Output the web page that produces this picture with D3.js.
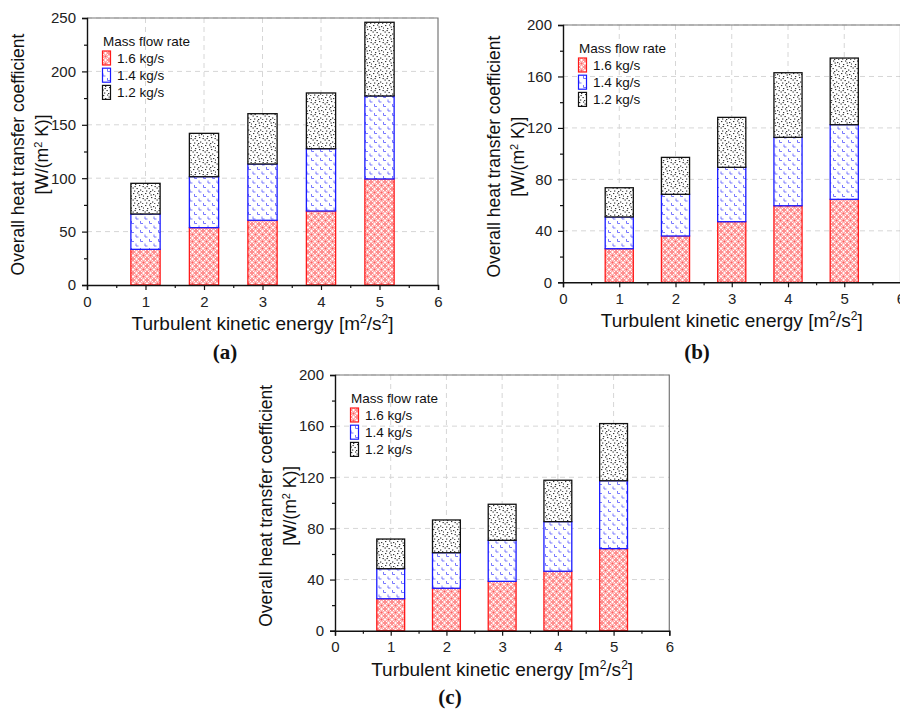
<!DOCTYPE html>
<html>
<head>
<meta charset="utf-8">
<script src="https://cdn.jsdelivr.net/npm/d3@7"></script>
<style>
  body { margin: 0; background: #fff; }
  svg { display: block; font-family: Arial, "Liberation Sans", sans-serif; }
</style>
</head>
<body>
<div id="chartbox"></div>
<script>
const WIDTH = 900
const HEIGHT = 709

// turbulent kinetic energy (x)
const tke = [1, 2, 3, 4, 5]
const seriesNames = ['1.6 kg/s', '1.4 kg/s', '1.2 kg/s']

// stacked segment values, one array per mass flow rate
const a16 = [33.4, 53.7, 60.6, 69.3, 99.3]
const a14 = [33.1, 47.7, 52.7, 58.3, 77.7]
const a12 = [28.7, 40.6, 47.1, 52.2, 69.0]

const b16 = [26.1, 36.0, 47.1, 59.5, 64.5]
const b14 = [24.7, 32.4, 42.3, 53.2, 58.0]
const b12 = [22.7, 28.7, 38.8, 50.2, 51.8]

const c16 = [25.0, 33.2, 38.6, 46.5, 64.2]
const c14 = [23.5, 27.8, 32.1, 38.8, 53.1]
const c12 = [23.2, 25.6, 28.2, 32.4, 44.7]

const xTicks = [0, 1, 2, 3, 4, 5, 6]
const yTicksA = [0, 50, 100, 150, 200, 250]
const yTicksBC = [0, 40, 80, 120, 160, 200]
const captions = ['(a)', '(b)', '(c)']

const panels = [
  { series: [a16, a14, a12], yTicks: yTicksA, caption: captions[0],
    left: 87, right: 438, top: 18, bottom: 285, cap: [225, 359] },
  { series: [b16, b14, b12], yTicks: yTicksBC, caption: captions[1],
    left: 563, right: 900.5, top: 25, bottom: 282.3, cap: [697, 359] },
  { series: [c16, c14, c12], yTicks: yTicksBC, caption: captions[2],
    left: 335, right: 669.3, top: 375, bottom: 630.7, cap: [450, 704] },
]

const strokes = ['#ff1a1a', '#1a1aff', '#111']

const svg = d3.select('#chartbox')
  .append('svg')
  .attr('width', WIDTH)
  .attr('height', HEIGHT)

// hatch patterns
const defs = svg.append('defs')

const pRed = defs.append('pattern')
  .attr('id', 'p0').attr('patternUnits', 'userSpaceOnUse')
  .attr('width', 7).attr('height', 7)
pRed.append('rect').attr('width', 7).attr('height', 7).attr('fill', '#fff')
;[[3.5, 0], [0, 3.5], [7, 3.5], [3.5, 7]].forEach(c => {
  pRed.append('circle').attr('cx', c[0]).attr('cy', c[1]).attr('r', 3.5)
    .attr('fill', 'none').attr('stroke', '#ff5656').attr('stroke-width', 0.65)
})

const pBlue = defs.append('pattern')
  .attr('id', 'p1').attr('patternUnits', 'userSpaceOnUse')
  .attr('width', 9).attr('height', 9)
pBlue.append('rect').attr('width', 9).attr('height', 9).attr('fill', '#fff')
;[[1, 0.5], [5.5, 5]].forEach(c => {
  pBlue.append('path')
    .attr('d', `M${c[0]},${c[1]} v2.5 h2.5`)
    .attr('fill', 'none').attr('stroke', '#6a6aff').attr('stroke-width', 0.9)
})

const pBlack = defs.append('pattern')
  .attr('id', 'p2').attr('patternUnits', 'userSpaceOnUse')
  .attr('width', 12).attr('height', 12)
pBlack.append('rect').attr('width', 12).attr('height', 12).attr('fill', '#fff')
const specks = [[1, 1], [5, 0.5], [9, 2], [3, 4], [7, 5], [10.5, 6], [0.5, 7.5],
  [4.5, 8], [8, 9.5], [2, 10.5], [6, 11], [10, 11.2], [11, 3.5], [6.5, 2.5], [2.5, 6]]
specks.forEach(s => {
  pBlack.append('rect').attr('x', s[0]).attr('y', s[1])
    .attr('width', 1.3).attr('height', 1.1).attr('fill', '#333')
})

function drawPanel(p) {
  const g = svg.append('g')
  const x = d3.scaleLinear().domain([0, 6]).range([p.left, p.right])
  const yMax = p.yTicks[p.yTicks.length - 1]
  const y = d3.scaleLinear().domain([0, yMax]).range([p.bottom, p.top])
  const step = p.yTicks[1] - p.yTicks[0]

  // grid
  g.append('g').selectAll('line')
    .data(p.yTicks.slice(1))
    .join('line')
    .attr('x1', p.left).attr('x2', p.right)
    .attr('y1', d => y(d)).attr('y2', d => y(d))
    .attr('stroke', '#d6d6d6').attr('stroke-dasharray', '5,4')
  g.append('g').selectAll('line')
    .data(xTicks.slice(1, -1))
    .join('line')
    .attr('x1', d => x(d)).attr('x2', d => x(d))
    .attr('y1', p.top).attr('y2', p.bottom)
    .attr('stroke', '#d6d6d6').attr('stroke-dasharray', '5,4')

  // frame
  g.append('path')
    .attr('d', `M${p.left},${p.top}H${p.right}V${p.bottom}`)
    .attr('fill', 'none').attr('stroke', '#777').attr('stroke-width', 1.2)

  // stacked bars
  const rows = tke.map((k, i) => ({ k, s0: p.series[0][i], s1: p.series[1][i], s2: p.series[2][i] }))
  const stacked = d3.stack().keys(['s0', 's1', 's2'])(rows)
  const bw = x(0.5) - x(0)
  stacked.forEach((layer, li) => {
    g.append('g').selectAll('rect')
      .data(layer)
      .join('rect')
      .attr('x', d => x(d.data.k) - bw / 2)
      .attr('width', bw)
      .attr('y', d => y(d[1]))
      .attr('height', d => y(d[0]) - y(d[1]))
      .attr('fill', `url(#p${li})`)
      .attr('stroke', strokes[li])
      .attr('stroke-width', 1.3)
  })

  // axes
  const xAxis = d3.axisBottom(x).tickValues(xTicks).tickSize(5).tickPadding(6)
    .tickFormat(d3.format('d'))
  const xMinor = d3.axisBottom(x).tickValues(xTicks.slice(0, -1).map(d => d + 0.5))
    .tickSize(3).tickFormat('')
  const yAxis = d3.axisLeft(y).tickValues(p.yTicks).tickSize(5).tickPadding(6)
  const yMinor = d3.axisLeft(y).tickValues(p.yTicks.slice(0, -1).map(d => d + step / 2))
    .tickSize(3).tickFormat('')

  g.append('g').attr('transform', `translate(0,${p.bottom})`).call(xMinor)
    .call(a => a.select('.domain').remove())
  g.append('g').attr('transform', `translate(${p.left},0)`).call(yMinor)
    .call(a => a.select('.domain').remove())
  const gx = g.append('g').attr('transform', `translate(0,${p.bottom})`).call(xAxis)
  const gy = g.append('g').attr('transform', `translate(${p.left},0)`).call(yAxis)
  ;[gx, gy].forEach(a => {
    a.select('.domain').attr('stroke', '#111').attr('stroke-width', 1.4)
    a.selectAll('.tick text').attr('font-size', 15).attr('fill', '#222')
      .attr('font-family', 'Arial, "Liberation Sans", sans-serif')
  })
  g.selectAll('.tick line').attr('stroke', '#111').attr('stroke-width', 1.2)

  // axis titles
  g.append('text')
    .attr('x', (p.left + p.right) / 2).attr('y', p.bottom + 45)
    .attr('text-anchor', 'middle').attr('font-size', 19).attr('fill', '#111')
    .html('Turbulent kinetic energy [m<tspan baseline-shift="super" font-size="12">2</tspan>/s<tspan baseline-shift="super" font-size="12">2</tspan>]')

  const cy = (p.top + p.bottom) / 2 + 3
  g.append('text')
    .attr('transform', `translate(${p.left - 63},${cy}) rotate(-90)`)
    .attr('text-anchor', 'middle').attr('font-size', 17.5).attr('fill', '#111')
    .text('Overall heat transfer coefficient')
  g.append('text')
    .attr('transform', `translate(${p.left - 39},${cy}) rotate(-90)`)
    .attr('text-anchor', 'middle').attr('font-size', 17.5).attr('fill', '#111')
    .html('[W/(m<tspan baseline-shift="super" font-size="11">2</tspan> K)]')

  // legend
  const lg = g.append('g').attr('transform', `translate(${p.left + 15},${p.top + 28})`)
  lg.append('text').attr('x', 1).attr('y', 0).attr('font-size', 13.5).attr('fill', '#111')
    .text('Mass flow rate')
  seriesNames.forEach((name, i) => {
    const yy = 5 + i * 17.2
    lg.append('rect').attr('x', 0.5).attr('y', yy).attr('width', 8).attr('height', 14)
      .attr('fill', `url(#p${i})`).attr('stroke', strokes[i]).attr('stroke-width', 1.2)
    lg.append('text').attr('x', 15).attr('y', yy + 12).attr('font-size', 13.5).attr('fill', '#111')
      .text(name)
  })

  // caption
  svg.append('text')
    .attr('x', p.cap[0]).attr('y', p.cap[1])
    .attr('text-anchor', 'middle')
    .attr('font-family', '"Liberation Serif", "DejaVu Serif", serif')
    .attr('font-size', 21).attr('font-weight', 'bold').attr('fill', '#111')
    .text(p.caption)
}

panels.forEach(drawPanel)
</script>
</body>
</html>
